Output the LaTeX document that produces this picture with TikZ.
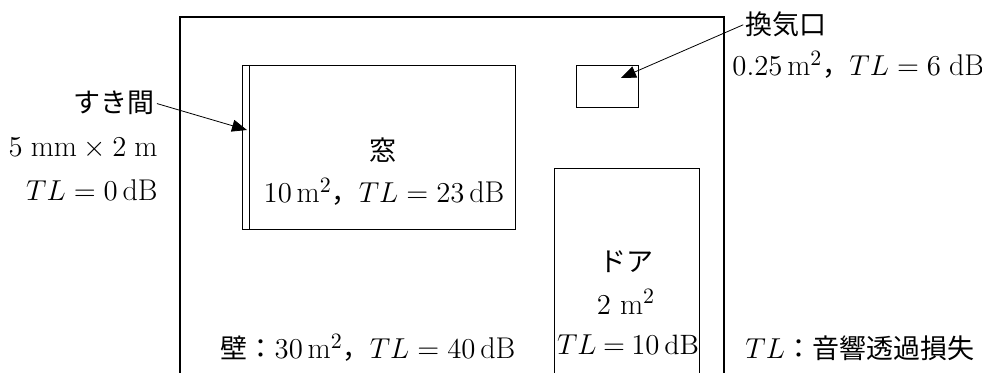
\documentclass[tikz,border=0pt]{standalone}
\usepackage{fontspec}
\usepackage{amsmath}
\usetikzlibrary{arrows.meta}
\newfontfamily\jpfont[Scale=0.9]{Noto Sans CJK JP}
\tikzset{lbl/.style={font=\fontsize{15}{17}\selectfont, inner sep=0pt},
  pointer/.style={-{Triangle[length=7.5pt, width=6pt]}, thin}}

\begin{document}
\begin{tikzpicture}[x=0.5pt, y=-0.5pt]
\useasboundingbox (0,0) rectangle (982,373);
% Wall: outline open at the bottom edge
\draw[semithick] (180,373) -- (180,17) -- (724,17) -- (724,373);
\node[lbl] (wall) at (368,348) {{\jpfont 壁：}$30\,\mathrm{m}^2${\jpfont ，}$TL = 40\,\mathrm{dB}$};
% Window with the narrow gap strip on its left side
\draw[thin] (242,65) rectangle (515,229);
\draw[thin] (249,65) -- (249,229);
\node[lbl] (win) at (383,150) {\jpfont 窓};
\node[lbl] (winTL) at (384,192) {$10\,\mathrm{m}^2${\jpfont ，}$TL = 23\,\mathrm{dB}$};
% Gap: labels on the left, pointer to the strip
\node[lbl, anchor=east] (gap) at (155,103) {\jpfont すき間};
\node[lbl, anchor=east] (gapSize) at (158,148) {$5\;\mathrm{mm} \times 2\;\mathrm{m}$};
\node[lbl, anchor=east] (gapTL) at (158,190) {$TL = 0\,\mathrm{dB}$};
\coordinate (gapTip) at (247,130);
\draw[pointer, shorten <=1pt] (gap.east) -- (gapTip);
% Vent: small opening, labels outside on the right
\draw[thin] (576,65) rectangle (638,107);
\node[lbl, anchor=west] (vent) at (745,24) {\jpfont 換気口};
\node[lbl, anchor=west] (ventTL) at (732,65) {$0.25\,\mathrm{m}^2${\jpfont ，}$TL = 6\;\mathrm{dB}$};
\coordinate (ventTip) at (621,78);
\draw[pointer, shorten <=1pt] (vent.west) -- (ventTip);
% Door: runs down to the bottom edge
\draw[thin] (554,373) -- (554,168) -- (699,168) -- (699,373);
\node[lbl] (door) at (626,262) {\jpfont ドア};
\node[lbl] (doorArea) at (626,302) {$2\ \mathrm{m}^2$};
\node[lbl, font=\fontsize{14}{17}\selectfont] (doorTL) at (628,345) {\thickmuskip=4mu $TL = 10\,\mathrm{dB}$};
% Legend
\node[lbl, anchor=west] (legend) at (745,348) {$TL${\jpfont ：音響透過損失}};
\end{tikzpicture}
\end{document}
